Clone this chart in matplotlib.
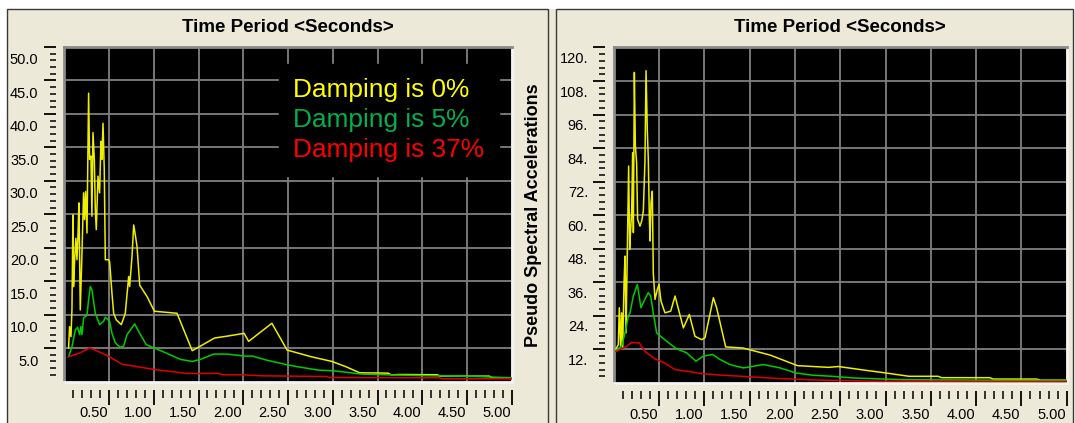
import matplotlib
matplotlib.use("Agg")
import matplotlib.pyplot as plt
from matplotlib.patches import Rectangle
from matplotlib.transforms import ScaledTranslation
import numpy as np

# ---------------- data ----------------
legend_labels = ["Damping is 0%", "Damping is 5%", "Damping is 37%"]
x_tick_values = [0.5, 1.0, 1.5, 2.0, 2.5, 3.0, 3.5, 4.0, 4.5, 5.0]
x_tick_labels = ["0.50", "1.00", "1.50", "2.00", "2.50", "3.00", "3.50", "4.00", "4.50", "5.00"]
left_y_ticks = [5, 10, 15, 20, 25, 30, 35, 40, 45, 50]
left_y_labels = ["5.0", "10.0", "15.0", "20.0", "25.0", "30.0", "35.0", "40.0", "45.0", "50.0"]
right_y_ticks = [12, 24, 36, 48, 60, 72, 84, 96, 108, 120]
right_y_labels = ["12.", "24.", "36.", "48.", "60.", "72.", "84.", "96.", "108.", "120."]

# left chart: spectral values vs period
left_period_0 = [0.048, 0.060, 0.075, 0.086, 0.097, 0.104, 0.116, 0.130, 0.142, 0.153,
                 0.164, 0.179, 0.198, 0.216, 0.227, 0.239, 0.254, 0.272, 0.283, 0.298,
                 0.309, 0.321, 0.336, 0.347, 0.358, 0.377, 0.395, 0.410, 0.421, 0.433,
                 0.447, 0.459, 0.496, 0.507, 0.533, 0.552, 0.582, 0.638, 0.682, 0.720,
                 0.731, 0.757, 0.776, 0.794, 0.813, 0.843, 0.925, 1.007, 1.26, 1.43,
                 1.68, 1.83, 2.01, 2.06, 2.32, 2.49, 2.76, 2.99, 3.15, 3.30,
                 3.62, 3.65, 3.76, 4.17, 4.20, 4.61, 4.75, 4.78, 5.0]
left_sa_0 = [5.0, 8.2, 6.7, 10.7, 24.9, 14.2, 18.2, 21.4, 18.2, 21.7,
             26.7, 10.7, 19.2, 28.2, 24.2, 28.4, 22.2, 43.1, 33.2, 33.7,
             24.7, 37.2, 33.2, 25.7, 22.7, 30.7, 28.2, 35.9, 33.2, 38.6,
             31.7, 18.2, 18.2, 17.9, 13.2, 10.2, 9.2, 8.5, 10.2, 15.7,
             14.2, 18.7, 23.4, 21.9, 20.2, 14.4, 12.7, 10.5, 10.2, 4.6,
             6.5, 6.8, 7.2, 6.0, 8.7, 4.7, 3.7, 3.0, 2.2, 1.3,
             1.25, 1.0, 1.05, 1.0, 0.8, 0.8, 0.8, 0.55, 0.55]

left_period_5 = [0.048, 0.086, 0.123, 0.149, 0.172, 0.186, 0.198, 0.216, 0.254, 0.272,
                 0.291, 0.309, 0.347, 0.395, 0.440, 0.459, 0.507, 0.533, 0.570, 0.626,
                 0.664, 0.701, 0.787, 0.843, 0.917, 1.007, 1.148, 1.30, 1.43, 1.52,
                 1.67, 1.82, 2.01, 2.10, 2.26, 2.49, 2.61, 2.84, 3.01, 3.26,
                 3.34, 3.76, 4.17, 4.61, 5.0]
left_sa_5 = [3.7, 5.2, 7.7, 8.1, 7.0, 8.2, 7.0, 9.5, 9.9, 12.2,
             14.2, 13.7, 10.2, 8.5, 9.0, 9.6, 9.0, 7.2, 5.8, 5.1,
             5.3, 7.0, 8.6, 7.2, 5.5, 5.0, 4.2, 3.3, 3.0, 3.3,
             4.1, 4.1, 3.8, 3.8, 3.2, 2.5, 2.2, 1.7, 1.6, 1.2,
             1.1, 0.95, 0.85, 0.75, 0.55]

left_period_37 = [0.048, 0.18, 0.28, 0.31, 0.46, 0.53, 0.645, 0.78, 1.0, 1.19,
                  1.37, 1.73, 1.77, 2.0, 2.2, 2.93, 2.96, 4.19, 4.22, 5.0]
left_sa_37 = [3.7, 4.3, 5.0, 4.9, 4.0, 3.5, 2.6, 2.3, 1.8, 1.5,
              1.2, 1.2, 1.0, 1.0, 0.85, 0.75, 0.6, 0.55, 0.4, 0.4]

# right chart: pseudo spectral accelerations vs period
right_period_0 = [0.025, 0.051, 0.062, 0.077, 0.088, 0.099, 0.114, 0.125, 0.136, 0.150,
                  0.165, 0.176, 0.187, 0.198, 0.209, 0.217, 0.228, 0.239, 0.253, 0.264,
                  0.290, 0.309, 0.327, 0.345, 0.357, 0.371, 0.382, 0.393, 0.401, 0.412,
                  0.426, 0.437, 0.456, 0.482, 0.500, 0.522, 0.566, 0.629, 0.677, 0.706,
                  0.769, 0.835, 0.897, 0.971, 1.008, 1.10, 1.136, 1.236, 1.43, 1.725,
                  2.03, 2.37, 2.48, 2.79, 2.98, 3.13, 3.26, 3.58, 3.62, 4.15,
                  4.19, 4.67, 4.71, 5.0]
right_psa_0 = [12.2, 13.7, 26.9, 13.2, 25.1, 12.6, 35.8, 45.4, 17.9, 46.6,
               77.6, 47.8, 54.9, 60.9, 82.4, 53.8, 111.1, 84.8, 78.8, 58.5,
               56.1, 57.9, 61.5, 79.4, 111.7, 90.2, 80.0, 59.7, 50.8, 64.5,
               68.6, 39.4, 29.9, 33.5, 35.2, 29.3, 25.1, 25.7, 31.1, 27.5,
               19.7, 24.5, 16.7, 15.5, 16.2, 30.5, 26.9, 12.9, 12.5, 10.0,
               6.2, 5.6, 5.9, 4.5, 3.7, 3.0, 2.4, 2.4, 1.9, 1.9,
               1.4, 1.4, 1.0, 1.0]

right_period_5 = [0.025, 0.088, 0.125, 0.162, 0.180, 0.217, 0.261, 0.301, 0.334, 0.382,
                  0.408, 0.437, 0.474, 0.585, 0.695, 0.805, 0.908, 0.989, 1.092, 1.173,
                  1.283, 1.431, 1.542, 1.652, 1.836, 2.01, 2.19, 2.41, 2.64, 3.18,
                  4.13, 5.0]
right_psa_5 = [11.7, 13.2, 17.9, 23.9, 25.1, 31.1, 35.2, 26.9, 29.3, 32.3,
               31.1, 25.1, 17.9, 14.9, 12.2, 10.8, 7.8, 9.6, 10.2, 8.4,
               6.6, 5.4, 6.0, 6.6, 5.4, 3.6, 2.8, 2.4, 1.8, 1.2,
               1.0, 0.9]

right_period_37 = [0.025, 0.143, 0.198, 0.283, 0.345, 0.456, 0.548, 0.677, 0.81, 0.96,
                   1.19, 1.52, 1.82, 2.19, 2.93, 5.0]
right_psa_37 = [11.3, 13.1, 14.5, 14.3, 11.3, 8.6, 7.4, 4.8, 4.2, 3.4,
                2.8, 2.2, 1.6, 1.1, 0.6, 0.5]

# ---------------- style ----------------
plt.rcParams['font.family'] = ['Liberation Sans', 'DejaVu Sans']
LINE_COLORS = ['#EEEE00', '#00CC00', '#E00000']
TEXT_COLORS = ['#FFFF00', '#00B050', '#FF0000']
PANEL_BG = '#ECE9D8'
GRID = '#808080'

W, H = 1075, 423
fig = plt.figure(figsize=(W / 100, H / 100), dpi=100, facecolor='white')


def px_box(x0, y0, x1, y1):
    """Figure-fraction rectangle from pixel edges (y measured from top)."""
    return [x0 / W, 1 - y1 / H, (x1 - x0) / W, (y1 - y0) / H]


# panel backgrounds and frames (kept beneath the axes)
fig.patches.append(Rectangle((7 / W, -0.05), (1073 - 7) / W, 1.05 - 9 / H,
                             transform=fig.transFigure, facecolor=PANEL_BG,
                             edgecolor='none', zorder=-3))
for x0, x1 in [(7, 548), (556, 1073)]:
    fig.patches.append(Rectangle((x0 / W, -0.05), (x1 - x0) / W, 1.05 - 9 / H,
                                 transform=fig.transFigure, facecolor='none',
                                 edgecolor='#3a3a3a', lw=1.0, zorder=-2))

ax1 = fig.add_axes(px_box(64.25, 47, 511.75, 381.5))
ax2 = fig.add_axes(px_box(613.7, 47.5, 1066.7, 383))


def style_axes(ax, ymax, yticks, ylabels, ystep_minor, ylabel_drop):
    ax.set_facecolor('black')
    ax.set_xlim(0, 5)
    ax.set_ylim(0, ymax)

    minor_x = [v / 10 for v in range(1, 50) if v % 5 != 0]
    minor_y = [k * ystep_minor for k in range(1, int(round(ymax / ystep_minor)))
               if (k % 5) != 0]
    ax.set_xticks(x_tick_values, x_tick_labels)
    ax.set_xticks(minor_x, minor=True)
    ax.set_yticks(yticks, ylabels)
    ax.set_yticks(minor_y, minor=True)

    ax.grid(True, which='major', color=GRID, lw=1.3)
    ax.grid(False, which='minor')

    for side in ('left', 'bottom'):
        ax.spines[side].set_position(('outward', 6))
        ax.spines[side].set_color('none')
    ax.spines['top'].set_color('#8a8a8a')
    ax.spines['right'].set_color('#f4f4f4')
    ax.spines['top'].set_linewidth(2.0)
    ax.spines['right'].set_linewidth(2.0)
    # remaining two edges of the sunken border
    ax.axvline(0, color='#8a8a8a', lw=2.0, clip_on=False, zorder=2.5)
    ax.axhline(0, color='#f4f4f4', lw=2.0, clip_on=False, zorder=2.5)

    ax.tick_params(axis='y', which='major', direction='out', length=9, width=1.3,
                   color='black', labelsize=10.5, pad=3.5)
    ax.tick_params(axis='y', which='minor', direction='out', length=4.5, width=1.1,
                   color='black')
    ax.tick_params(axis='x', which='major', direction='out', length=11, width=1.3,
                   color='black', labelsize=10.5, pad=0.8)
    ax.tick_params(axis='x', which='minor', direction='out', length=6, width=1.1,
                   color='black')

    for lbl in ax.get_xticklabels():
        lbl.set_horizontalalignment('right')
        lbl.set_transform(lbl.get_transform() +
                          ScaledTranslation(-1 / 100, 0, fig.dpi_scale_trans))
    for lbl in ax.get_yticklabels():
        lbl.set_transform(lbl.get_transform() +
                          ScaledTranslation(0, -ylabel_drop / 100, fig.dpi_scale_trans))

    ax.set_title('Time Period <Seconds>', fontsize=13.5, fontweight='bold',
                 y=1 + 20 / 334.5, pad=0, va='center')


style_axes(ax1, 50, left_y_ticks, left_y_labels, 1.0, 12)
style_axes(ax2, 120, right_y_ticks, right_y_labels, 2.4, 10)

# series
left_series = [(left_period_0, left_sa_0), (left_period_5, left_sa_5),
               (left_period_37, left_sa_37)]
right_series = [(right_period_0, right_psa_0), (right_period_5, right_psa_5),
                (right_period_37, right_psa_37)]

left_lines = []
for (t, v), c, lab in zip(left_series, LINE_COLORS, legend_labels):
    line, = ax1.plot(t, v, color=c, lw=1.1, label=lab, zorder=3)
    left_lines.append(line)
for (t, v), c in zip(right_series, LINE_COLORS):
    ax2.plot(t, v, color=c, lw=1.1, zorder=3)

ax1.legend(handles=left_lines, loc='upper left', bbox_to_anchor=(0.480, 0.949),
           borderaxespad=0, frameon=True, facecolor='black', edgecolor='black',
           framealpha=1, fancybox=False, handlelength=0, handletextpad=0,
           borderpad=0.55, labelspacing=0.22, fontsize=18.9,
           labelcolor=TEXT_COLORS)

ax2.set_ylabel('Pseudo Spectral Accelerations', fontsize=13, fontweight='bold',
               va='center')
ax2.yaxis.set_label_coords((534 - 613.7) / 453, 0.5)

fig.savefig('out.png', dpi=100, facecolor=fig.get_facecolor())
